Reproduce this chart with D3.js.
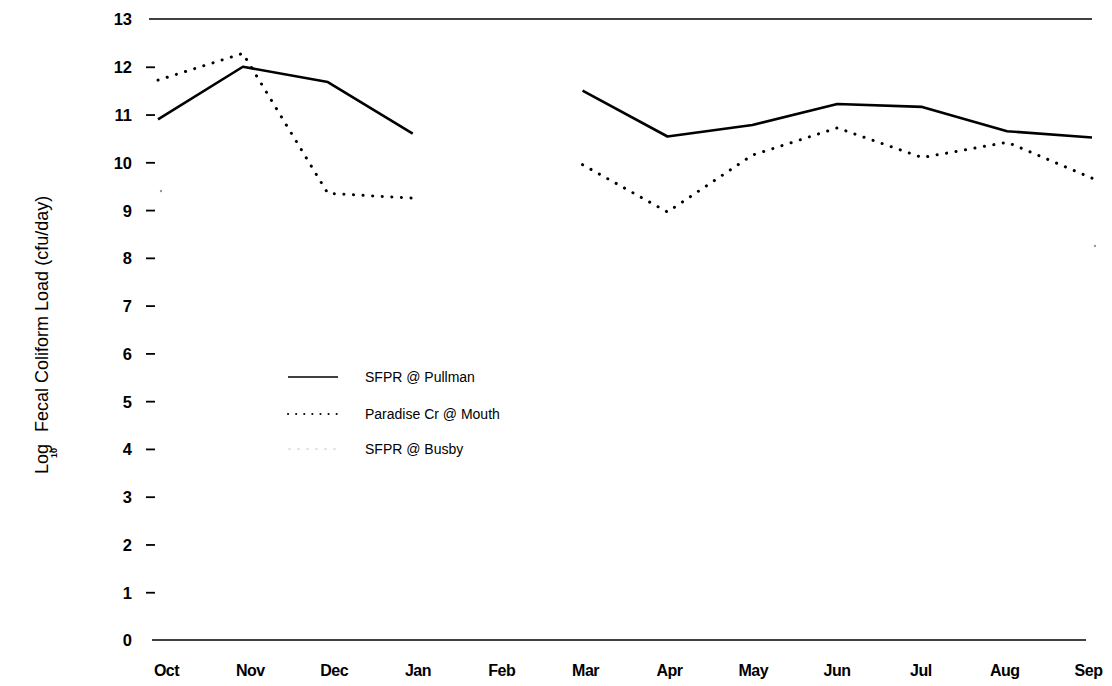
<!DOCTYPE html>
<html>
<head>
<meta charset="utf-8">
<script src="https://cdn.jsdelivr.net/npm/d3@7"></script>
<style>
  html, body { margin: 0; padding: 0; background: #fff; }
  svg { display: block; }
  text { font-family: "Liberation Sans", Arial, Helvetica, sans-serif; fill: #000; }
</style>
</head>
<body>
<svg id="chart" width="1112" height="686"></svg>
<script>
// Monthly log10 fecal coliform loads (cfu/day), water year Oct–Sep
const months = ["Oct", "Nov", "Dec", "Jan", "Feb", "Mar", "Apr", "May", "Jun", "Jul", "Aug", "Sep"];
const pullman  = [10.9, 12.0, 11.68, 10.6, null, 11.5, 10.54, 10.78, 11.22, 11.16, 10.65, 10.52];
const paradise = [11.72, 12.28, 9.35, 9.25, null, 9.95, 8.96, 10.15, 10.72, 10.1, 10.42, 9.67];
const busby    = [9.4, null, null, null, null, null, null, null, null, null, null, 8.25];
const yTicks   = [0, 1, 2, 3, 4, 5, 6, 7, 8, 9, 10, 11, 12, 13];

const seriesNames = ["SFPR @ Pullman", "Paradise Cr @ Mouth", "SFPR @ Busby"];

const svg = d3.select("#chart");

const x = d3.scalePoint().domain(months).range([158, 1092]);
const xLabel = d3.scalePoint().domain(months).range([166, 1088]);
const y = d3.scaleLinear().domain([0, 13]).range([640, 19]);

// frame: baseline at 0 and rule at 13
svg.append("line")
  .attr("x1", 149).attr("x2", 1092)
  .attr("y1", y(13)).attr("y2", y(13))
  .attr("stroke", "#000").attr("stroke-width", 1.6);
svg.append("line")
  .attr("x1", 152).attr("x2", 1086)
  .attr("y1", y(0)).attr("y2", y(0))
  .attr("stroke", "#000").attr("stroke-width", 1.6);

// y axis: short dashes with numbers, no spine
const yAxis = d3.axisLeft(y).tickValues(yTicks).tickSize(0).tickPadding(0).tickFormat(d3.format("d"));
const yg = svg.append("g").attr("transform", "translate(157,0)").call(yAxis);
yg.select(".domain").remove();
yg.selectAll(".tick text")
  .attr("x", -25)
  .attr("dy", "0.36em")
  .style("font-size", "16.5px")
  .style("font-weight", "bold")
  .style("font-family", "'Liberation Sans', Arial, sans-serif");
yg.selectAll(".tick").filter(d => d !== 13 && d !== 0).append("line")
  .attr("x1", -11).attr("x2", -2)
  .attr("stroke", "#000").attr("stroke-width", 1.8);

// x axis month labels
const xAxis = d3.axisBottom(xLabel).tickSize(0).tickPadding(0);
const xg = svg.append("g").attr("transform", "translate(0,665)").call(xAxis);
xg.select(".domain").remove();
xg.selectAll(".tick text")
  .attr("dy", "0.71em")
  .style("font-size", "16px")
  .style("font-weight", "bold")
  .style("letter-spacing", "-0.5px")
  .style("font-family", "'Liberation Sans', Arial, sans-serif");

// y axis title with subscript base
const title = svg.append("text")
  .attr("transform", "translate(48,474) rotate(-90)")
  .attr("text-anchor", "start")
  .style("font-size", "18px");
title.append("tspan").text("Log");
title.append("tspan").attr("dx", -14).attr("dy", 9).style("font-size", "9px").style("font-weight", "bold").text("10");
title.append("tspan").attr("dx", 16).attr("dy", -9).text("Fecal Coliform Load (cfu/day)");

const lineFor = arr => d3.line()
  .defined(d => d.v != null)
  .x(d => x(d.m))
  .y(d => y(d.v))(arr.map((v, i) => ({ m: months[i], v })));

// SFPR @ Pullman — solid
svg.append("path")
  .attr("d", lineFor(pullman))
  .attr("fill", "none").attr("stroke", "#000")
  .attr("stroke-width", 2.6).attr("stroke-linejoin", "round");

// Paradise Cr @ Mouth — dotted
svg.append("path")
  .attr("d", lineFor(paradise))
  .attr("fill", "none").attr("stroke", "#000")
  .attr("stroke-width", 3).attr("stroke-linecap", "round")
  .attr("stroke-dasharray", "0.1 9.5");

// SFPR @ Busby — very faint, only isolated readings
svg.append("g").selectAll("circle")
  .data(busby.map((v, i) => ({ m: months[i], v })).filter(d => d.v != null))
  .join("circle")
  .attr("cx", d => x(d.m) + 3)
  .attr("cy", d => y(d.v))
  .attr("r", 1.2)
  .attr("fill", "#999");

// legend
const legend = svg.append("g");
const legendY = [377, 414, 449];
const legendStyles = [
  { stroke: "#000", width: 1.6, dash: null, cap: "butt" },
  { stroke: "#000", width: 2, dash: "0.1 8", cap: "round" },
  { stroke: "#ccc", width: 1, dash: "3 6", cap: "butt" }
];
seriesNames.forEach((name, i) => {
  const st = legendStyles[i];
  legend.append("line")
    .attr("x1", 288).attr("x2", 338)
    .attr("y1", legendY[i]).attr("y2", legendY[i])
    .attr("stroke", st.stroke).attr("stroke-width", st.width)
    .attr("stroke-linecap", st.cap)
    .attr("stroke-dasharray", st.dash);
  legend.append("text")
    .attr("x", 365).attr("y", legendY[i])
    .attr("dy", "0.36em")
    .style("font-size", "14px")
    .text(name);
});
</script>
</body>
</html>
